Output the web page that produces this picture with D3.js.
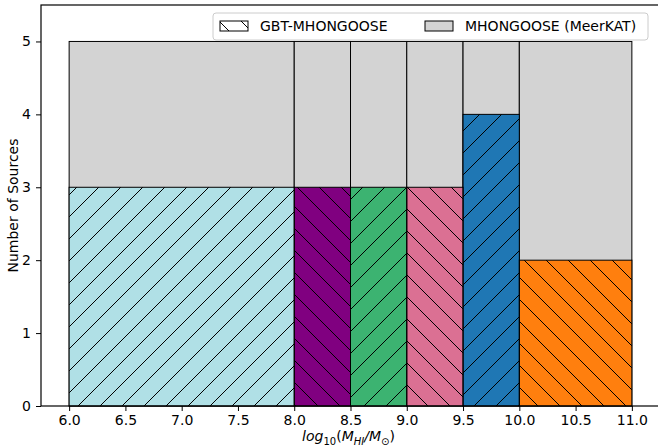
<!DOCTYPE html>
<html>
<head>
<meta charset="utf-8">
<script src="https://cdn.jsdelivr.net/npm/d3@7"></script>
<style>
  body { margin: 0; background: #fff; }
  svg { font-family: "DejaVu Sans", sans-serif; }
</style>
</head>
<body>
<div id="chart"></div>
<script>
// bin edges of the histogram
var binStart = [6.0, 8.0, 8.5, 9.0, 9.5, 10.0];
var binEnd = [8.0, 8.5, 9.0, 9.5, 10.0, 11.0];
var meerkatCounts = [5, 5, 5, 5, 5, 5];
var gbtCounts = [3, 3, 3, 3, 4, 2];
var gbtColors = ["#b0e0e6", "#800080", "#3cb371", "#db7093", "#1f77b4", "#ff7f0e"];
var gbtHatch = ["fwd", "back", "fwd", "back", "fwd", "back"];
var xTicks = [6.0, 6.5, 7.0, 7.5, 8.0, 8.5, 9.0, 9.5, 10.0, 10.5, 11.0];
var yTicks = [0, 1, 2, 3, 4, 5];

function init() {
    var width = 658, height = 446;
    var margin = {top: 5, right: -2, bottom: 40, left: 41};

    var svg = d3.select("#chart").append("svg")
        .attr("width", width)
        .attr("height", height);

    var x = d3.scaleLinear()
        .domain([5.75, 11.25])
        .range([margin.left, width - margin.right]);

    var y = d3.scaleLinear()
        .domain([0, 5.5])
        .range([height - margin.bottom, margin.top]);

    // hatch patterns, anchored to the page so lines run on across bars
    var defs = svg.append("defs");
    var step = 22;
    var fwd = defs.append("pattern")
        .attr("id", "fwd")
        .attr("patternUnits", "userSpaceOnUse")
        .attr("width", step).attr("height", step);
    fwd.append("path")
        .attr("d", `M0,${step} L${step},0 M-${step/2},${step/2} L${step/2},-${step/2} M${step/2},${step*1.5} L${step*1.5},${step/2}`)
        .attr("stroke", "#000").attr("stroke-width", 1);
    var back = defs.append("pattern")
        .attr("id", "back")
        .attr("patternUnits", "userSpaceOnUse")
        .attr("width", step).attr("height", step);
    back.append("path")
        .attr("d", `M0,0 L${step},${step} M-${step/2},${step/2} L${step/2},${step*1.5} M${step/2},-${step/2} L${step*1.5},${step/2}`)
        .attr("stroke", "#000").attr("stroke-width", 1);

    var bins = binStart.map((d, i) => ({x0: d, x1: binEnd[i], m: meerkatCounts[i], g: gbtCounts[i], c: gbtColors[i], h: gbtHatch[i]}));

    // MeerKAT bars
    svg.append("g").selectAll("rect")
        .data(bins).enter().append("rect")
        .attr("x", d => x(d.x0))
        .attr("y", d => y(d.m))
        .attr("width", d => x(d.x1) - x(d.x0))
        .attr("height", d => y(0) - y(d.m))
        .attr("fill", "#d3d3d3")
        .attr("stroke", "#000")
        .attr("stroke-width", 1);

    // GBT bars (colour + hatch)
    var gb = svg.append("g");
    gb.selectAll("rect.fill")
        .data(bins).enter().append("rect")
        .attr("class", "fill")
        .attr("x", d => x(d.x0))
        .attr("y", d => y(d.g))
        .attr("width", d => x(d.x1) - x(d.x0))
        .attr("height", d => y(0) - y(d.g))
        .attr("fill", d => d.c);
    gb.selectAll("rect.hatch")
        .data(bins).enter().append("rect")
        .attr("class", "hatch")
        .attr("x", d => x(d.x0))
        .attr("y", d => y(d.g))
        .attr("width", d => x(d.x1) - x(d.x0))
        .attr("height", d => y(0) - y(d.g))
        .attr("fill", d => `url(#${d.h})`)
        .attr("stroke", "#000")
        .attr("stroke-width", 1);

    // axes
    svg.append("g")
        .attr("transform", `translate(0,${y(0)})`)
        .call(d3.axisBottom(x).tickValues(xTicks).tickFormat(d3.format(".1f")).tickSizeOuter(0).tickSize(5).tickPadding(4))
        .call(g => g.select(".domain").remove())
        .call(g => g.selectAll("text").attr("font-size", 14).attr("fill", "#000").attr("font-family", "DejaVu Sans"));

    svg.append("g")
        .attr("transform", `translate(${x(5.75)},0)`)
        .call(d3.axisLeft(y).tickValues(yTicks).tickFormat(d3.format("d")).tickSizeOuter(0).tickSize(5).tickPadding(5))
        .call(g => g.select(".domain").remove())
        .call(g => g.selectAll("text").attr("font-size", 14).attr("fill", "#000").attr("font-family", "DejaVu Sans"));

    // frame
    svg.append("rect")
        .attr("x", x(5.75)).attr("y", y(5.5))
        .attr("width", x(11.25) - x(5.75))
        .attr("height", y(0) - y(5.5))
        .attr("fill", "none").attr("stroke", "#000").attr("stroke-width", 1.2);

    // axis labels
    svg.append("text")
        .attr("transform", `translate(18,${(y(0) + y(5.5)) / 2}) rotate(-90)`)
        .attr("text-anchor", "middle")
        .attr("font-size", 14)
        .text("Number of Sources");

    var xl = svg.append("text")
        .attr("x", (x(5.75) + x(11.25)) / 2 - 2)
        .attr("y", 441)
        .attr("text-anchor", "middle")
        .attr("font-size", 14)
        .attr("font-style", "italic");
    xl.append("tspan").text("log");
    xl.append("tspan").attr("font-size", 10).attr("dy", 4).attr("font-style", "normal").text("10");
    xl.append("tspan").attr("dy", -4).attr("font-style", "normal").text("(");
    xl.append("tspan").text("M");
    xl.append("tspan").attr("font-size", 10).attr("dy", 4).text("HI");
    xl.append("tspan").attr("dy", -4).text("/M");
    xl.append("tspan").attr("font-size", 10).attr("dy", 4).attr("font-style", "normal").text("\u2299");
    xl.append("tspan").attr("dy", -4).attr("font-style", "normal").text(")");

    // legend
    var lg = svg.append("g");
    lg.append("rect")
        .attr("x", 213).attr("y", 13)
        .attr("width", 435).attr("height", 27)
        .attr("rx", 3)
        .attr("fill", "#fff").attr("fill-opacity", 0.8)
        .attr("stroke", "#ccc");
    lg.append("rect")
        .attr("x", 220).attr("y", 21).attr("width", 28).attr("height", 10)
        .attr("fill", "#fff");
    lg.append("rect")
        .attr("x", 220).attr("y", 21).attr("width", 28).attr("height", 10)
        .attr("fill", "url(#back)").attr("stroke", "#000");
    lg.append("text")
        .attr("x", 260).attr("y", 31)
        .attr("font-size", 14)
        .text("GBT-MHONGOOSE");
    lg.append("rect")
        .attr("x", 425).attr("y", 21).attr("width", 28).attr("height", 10)
        .attr("fill", "#d3d3d3").attr("stroke", "#000");
    lg.append("text")
        .attr("x", 465).attr("y", 31)
        .attr("font-size", 14)
        .text("MHONGOOSE (MeerKAT)");
}

window.onload = init;
</script>
</body>
</html>
